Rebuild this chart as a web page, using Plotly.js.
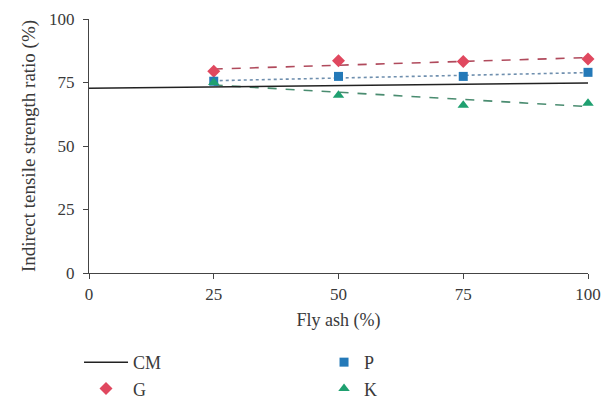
<!DOCTYPE html>
<html>
<head>
<meta charset="utf-8">
<script src="https://cdn.plot.ly/plotly-3.0.1.min.js"></script>
<style>html,body{margin:0;padding:0;background:#fff;}#chart{width:612px;height:408px;}</style>
</head>
<body>
<div id="chart"></div>
<script>
// Data
const flyAsh = [25, 50, 75, 100];
const gValues = [79.4, 83.6, 83.3, 84.3];
const pValues = [75.5, 77.4, 77.4, 79.0];
const kValues = [75.0, 70.0, 66.0, 66.8];
// Control mix (CM) reference line, endpoints
const cmX = [0, 100];
const cmY = [72.7, 74.8];
// Trendline endpoints
const trendX = [25, 100];
const gTrend = [80.3, 84.8];
const pTrend = [75.7, 78.9];
const kTrend = [74.0, 65.5];
const xTicks = [0, 25, 50, 75, 100];
const yTicks = [0, 25, 50, 75, 100];

const font = "Liberation Serif, Times New Roman, serif";
const txt = "#3a3a3a";

const traces = [
  {x: trendX, y: gTrend, mode: 'lines', line: {color: '#b04a5c', width: 1.6, dash: 'dash'}, showlegend: false, hoverinfo: 'skip'},
  {x: trendX, y: pTrend, mode: 'lines', line: {color: '#6f8fae', width: 1.6, dash: 'dot'}, showlegend: false, hoverinfo: 'skip'},
  {x: trendX, y: kTrend, mode: 'lines', line: {color: '#4a8c70', width: 1.6, dash: 'dash'}, showlegend: false, hoverinfo: 'skip'},
  {x: cmX, y: cmY, name: 'CM', mode: 'lines', line: {color: '#222', width: 1.5}, legend: 'legend'},
  {x: flyAsh, y: gValues, name: 'G', mode: 'markers', marker: {symbol: 'diamond', size: 10, color: '#e0485f'}, cliponaxis: false, legend: 'legend'},
  {x: flyAsh, y: pValues, name: 'P', mode: 'markers', marker: {symbol: 'square', size: 9, color: '#2479b8'}, cliponaxis: false, legend: 'legend2'},
  {x: flyAsh, y: kValues, name: 'K', mode: 'markers', marker: {symbol: 'triangle-up', size: 10, color: '#1fa070'}, cliponaxis: false, legend: 'legend2'}
];

const legendFont = {family: font, size: 18, color: txt};
const layout = {
  width: 612, height: 408,
  margin: {l: 89, r: 24, t: 19, b: 135},
  paper_bgcolor: '#fff', plot_bgcolor: '#fff',
  font: {family: font, color: txt, size: 14},
  showlegend: true,
  xaxis: {
    range: [0, 100], tickvals: xTicks, ticktext: xTicks.map(String),
    showgrid: false, zeroline: false, showline: true, linecolor: '#444', linewidth: 1.2,
    ticks: 'outside', ticklen: 5, tickcolor: '#444', ticklabelstandoff: 0,
    tickfont: {family: font, size: 17, color: txt},
    title: {text: 'Fly ash (%)', font: {family: font, size: 18, color: txt}, standoff: 10}
  },
  yaxis: {
    range: [0, 100], tickvals: yTicks, ticktext: yTicks.map(String),
    showgrid: false, zeroline: false, showline: true, linecolor: '#444', linewidth: 1.2,
    ticks: 'outside', ticklen: 5, tickcolor: '#444', ticklabelstandoff: 5,
    tickfont: {family: font, size: 17, color: txt},
    title: {text: 'Indirect tensile strength ratio (%)', font: {family: font, size: 19, color: txt}, standoff: 8}
  },
  legend: {
    orientation: 'v', xref: 'paper', x: -0.02, xanchor: 'left',
    yref: 'container', y: 0.157, yanchor: 'top',
    itemwidth: 44, traceorder: 'normal', tracegroupgap: 0,
    font: legendFont, bgcolor: 'rgba(0,0,0,0)'
  },
  legend2: {
    orientation: 'v', xref: 'paper', x: 0.471, xanchor: 'left',
    yref: 'container', y: 0.157, yanchor: 'top',
    traceorder: 'normal', tracegroupgap: 0,
    font: legendFont, bgcolor: 'rgba(0,0,0,0)'
  }
};

Plotly.newPlot('chart', traces, layout, {displayModeBar: false, staticPlot: true});
</script>
</body>
</html>
